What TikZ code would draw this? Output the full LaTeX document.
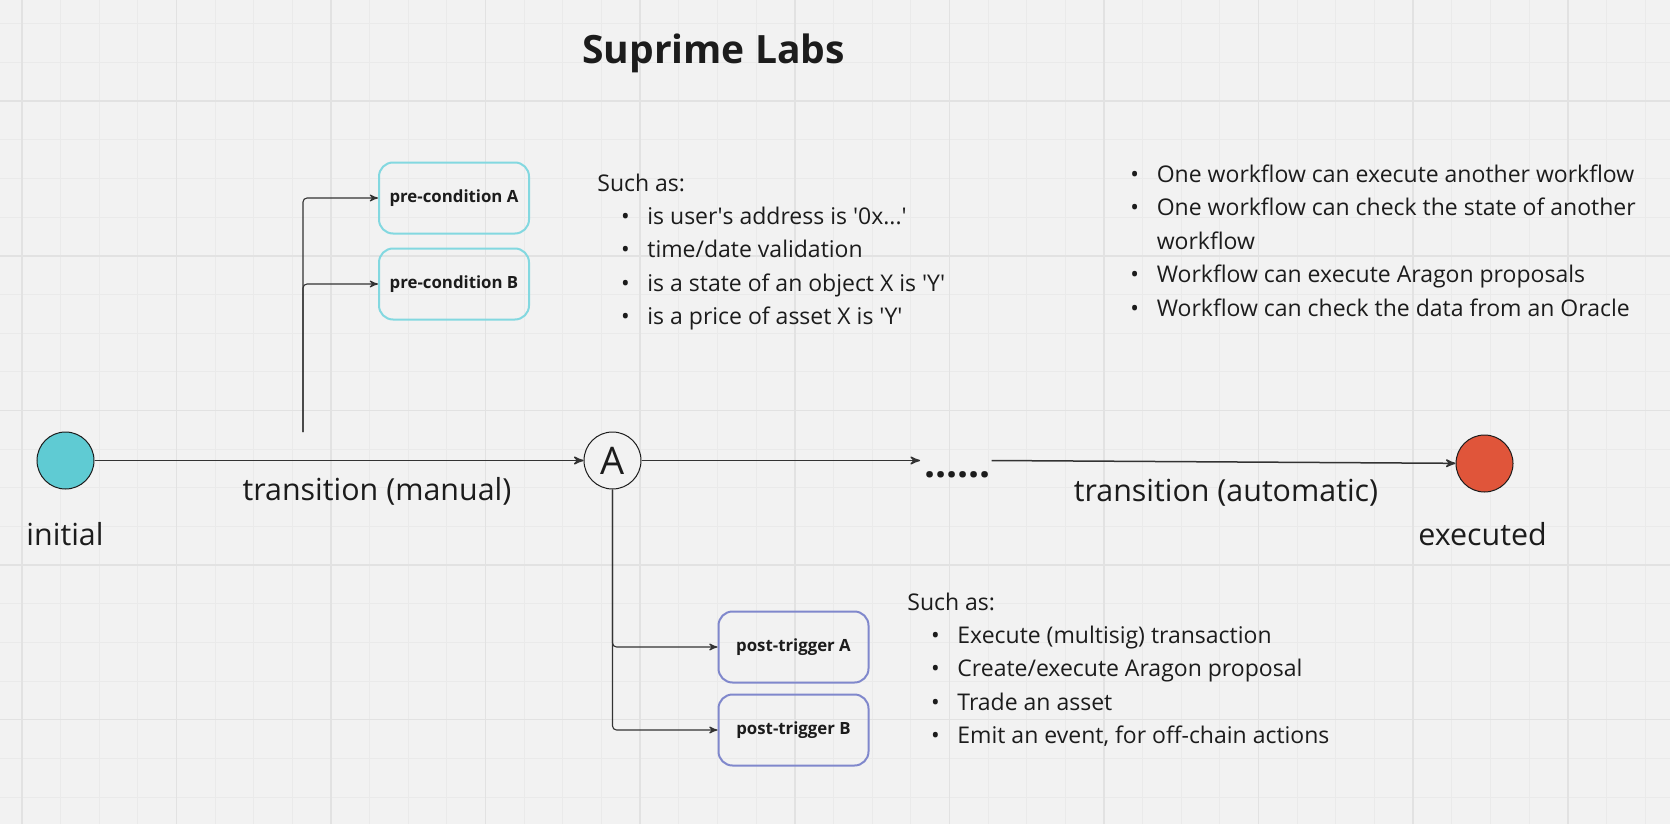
\documentclass[tikz,border=0pt]{standalone}
\usepackage{fontspec}
\setmainfont{Open Sans}
\usetikzlibrary{positioning}
\usetikzlibrary{arrows,chains}
\definecolor{papier}{HTML}{F2F2F2}
\definecolor{gitter}{HTML}{E2E2E2}
\definecolor{feingitter}{HTML}{EAEAEA}
\definecolor{tinte}{HTML}{1C1C1C}
\definecolor{strich}{HTML}{333333}
\definecolor{tuerkis}{HTML}{5FCBD3}
\definecolor{rot}{HTML}{E0553A}
\definecolor{hellcyan}{HTML}{83D8E0}
\definecolor{lila}{HTML}{8088CC}
\tikzset{
	>=stealth',
	zustand/.style={
		circle,
		draw=tinte, line width=0.5pt,
		minimum size=28.5pt,
		inner sep=0pt},
	kasten/.style={
		rectangle,
		rounded corners=7pt,
		line width=1pt,
		minimum width=75pt,
		minimum height=35.5pt,
		font=\fontsize{8.4}{10}\selectfont\bfseries,
		text=tinte,
		text centered,
		on chain},
	line/.style={draw=strich, line width=0.75pt, ->},
	branch/.style={draw=strich, line width=0.55pt, ->, rounded corners=2pt},
	beschriftung/.style={font=\fontsize{15.2}{18}\selectfont, text=tinte, inner sep=0pt, anchor=base},
	liste/.style={font=\fontsize{11.5}{16.7}\selectfont, text=tinte, inner sep=0pt, align=left, anchor=base west},
}
\newcommand{\punkt}{\hspace*{11.9pt}\makebox[13.1pt][l]{\textbullet}}
\newcommand{\haken}{\llap{\textbullet\hspace{8.9pt}}}

\begin{document}
\begin{tikzpicture}[x=0.5pt, y=-0.5pt, node distance=6pt]
	% papier und gitter
	\fill[papier] (0,0) rectangle (1670,824);
	\useasboundingbox (0,0) rectangle (1670,824);
	\foreach \i in {0,...,42}
		\draw[feingitter, line width=0.5pt] ({21.8+38.65*\i},0) -- ++(0,824);
	\foreach \j in {0,...,20}
		\draw[feingitter, line width=0.5pt] (0,{24+38.65*\j}) -- ++(1670,0);
	\foreach \i in {0,...,10}
		\draw[gitter, line width=0.8pt] ({21.8+154.6*\i},0) -- ++(0,824);
	\foreach \j in {0,...,4}
		\draw[gitter, line width=0.8pt] (0,{101.2+154.6*\j}) -- ++(1670,0);

	\node[font=\fontsize{19.5}{22}\selectfont\bfseries, text=tinte, anchor=base, inner sep=0pt] (titel) at (713.5,64) {Suprime Labs};

	% zustaende
	\node[zustand, fill=tuerkis] (anfang) at (65.5,460.5) {};
	\node[zustand, fill=papier, font=\fontsize{19}{22}\selectfont, text=tinte] (mitte) at (612.5,460.5) {A};
	\node[zustand, fill=rot] (ende) at (1484.5,463.5) {};
	\node[font=\fontsize{19.5}{22}\selectfont\bfseries, text=tinte, inner sep=0pt, anchor=base west] (punkte) at (924,477) {......};

	\node[beschriftung] (txtanfang) at (65,545) {initial};
	\node[beschriftung] (manuell) at (377,500) {transition (manual)};
	\node[beschriftung] (automatisch) at (1226,501.7) {transition (automatic)};
	\node[beschriftung] (txtende) at (1482.5,545) {executed};

	\draw[line] (anfang) -- (mitte);
	\draw[line, shorten >=2pt] (mitte) -- (punkte.west |- mitte.east);
	\draw[line] (punkte.east |- mitte.east) -- (ende);

	% vorbedingungen
	\begin{scope}[start chain=vor going below, node distance=6.5pt]
		\node[kasten, draw=hellcyan] (vorA) at (454,198) {pre-condition A};
		\node[kasten, draw=hellcyan] (vorB) {pre-condition B};
	\end{scope}
	\coordinate (vorfuss) at (303,432);
	\draw[branch] (vorfuss) |- (vorA);
	\draw[branch] (vorfuss) |- (vorB);

	% nachtrigger
	\begin{scope}[start chain=nach going below, node distance=5pt]
		\node[kasten, draw=lila] (nachA) at (793.5,647) {post-trigger A};
		\node[kasten, draw=lila] (nachB) {post-trigger B};
	\end{scope}
	\draw[branch] (mitte) |- (nachA);
	\draw[branch] (mitte) |- (nachB);

	% notizen (anker an der letzten zeile)
	\node[liste] (vornotiz) at (597,324.6) {Such as:\\
		\punkt is user\textquotesingle s address is \textquotesingle 0x...\textquotesingle\\
		\punkt time/date validation\\
		\punkt is a state of an object X is \textquotesingle Y\textquotesingle\\
		\punkt is a price of asset X is \textquotesingle Y\textquotesingle};
	\node[liste] (rechtsnotiz) at (1156.4,316) {\haken One workflow can execute another workflow\\
		\haken One workflow can check the state of another\\
		workflow\\
		\haken Workflow can execute Aragon proposals\\
		\haken Workflow can check the data from an Oracle};
	\node[liste] (nachnotiz) at (907,743.7) {Such as:\\
		\punkt Execute (multisig) transaction\\
		\punkt Create/execute Aragon proposal\\
		\punkt Trade an asset\\
		\punkt Emit an event, for off-chain actions};
\end{tikzpicture}
\end{document}
